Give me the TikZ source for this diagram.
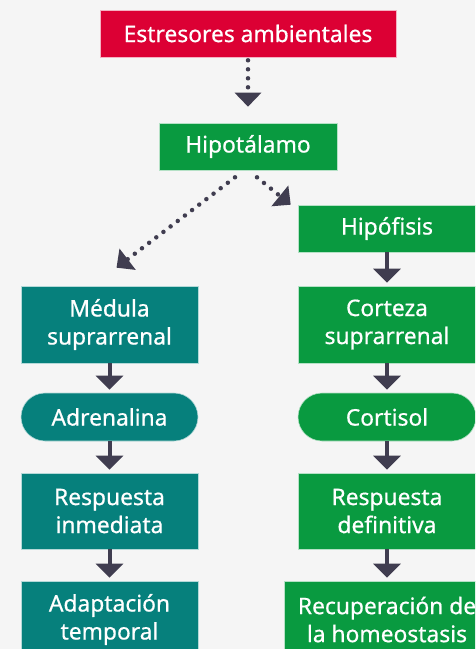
\documentclass[tikz,border=0pt]{standalone}
\usepackage{fontspec}
\setmainfont{Noto Sans}
\newfontfamily\boxfont{Noto Sans}[FakeBold=0.6]
\usetikzlibrary{arrows.meta}

\definecolor{bgcol}{RGB}{245,245,245}
\definecolor{redcol}{RGB}{220,0,52}
\definecolor{greencol}{RGB}{9,154,64}
\definecolor{tealcol}{RGB}{6,128,124}
\definecolor{arrowcol}{RGB}{64,61,80}

\tikzset{
  box/.style={draw=white!70!#1, line width=0.6pt, fill=#1, text=white,
    align=center, inner sep=0pt, font=\boxfont\fontsize{22.8}{28}\selectfont},
  pill/.style={box=#1, rounded corners=24pt},
  flow/.style={draw=arrowcol, line width=4pt,
    -{Triangle[width=27pt,length=14pt]}},
  dots/.style={draw=arrowcol, line width=4.5pt, line cap=round,
    dash pattern=on 0pt off 9pt,
    -{Triangle[width=26pt,length=14pt,line cap=butt]}},
}

\begin{document}
\begin{tikzpicture}[x=1pt, y=-1pt]

% page and background
\useasboundingbox (0,0) rectangle (475,649);
\clip (0,0) rectangle (475,649);
\fill[bgcol] (0,0) rectangle (475,649);

% top
\node[box=redcol, minimum width=296pt, minimum height=47pt] (estres) at (248,33.5) {Estresores ambientales};
\node[box=greencol, minimum width=178pt, minimum height=47pt] (hipot) at (248,146.5) {Hipotálamo};
\node[box=greencol, minimum width=178pt, minimum height=47pt] (hipof) at (387,228.5) {Hipófisis};

% left column
\node[box=tealcol, minimum width=177pt, minimum height=77pt] (medula) at (109.5,324.5) {Médula\\suprarrenal};
\node[pill=tealcol, minimum width=177pt, minimum height=48pt] (adren) at (109.5,417) {Adrenalina};
\node[box=tealcol, minimum width=177pt, minimum height=76pt] (respinm) at (109.5,511) {Respuesta\\inmediata};
\node[box=tealcol, minimum width=177pt, minimum height=77pt] (adapt) at (109.5,619.5) {Adaptación\\temporal};

% right column
\node[box=greencol, minimum width=178pt, minimum height=77pt] (corteza) at (387,324.5) {Corteza\\suprarrenal};
\node[pill=greencol, minimum width=178pt, minimum height=48pt] (cortis) at (387,417) {Cortisol};
\node[box=greencol, minimum width=178pt, minimum height=76pt] (respdef) at (387,511) {Respuesta\\definitiva};
\node[box=greencol, minimum width=206pt, minimum height=77pt] (recup) at (387,619.5) {Recuperación de\\la homeostasis};

% dotted connectors (yshift is not flipped by y=-1pt)
\draw[dots] ([yshift=-3pt]estres.south) -- ([yshift=16pt]hipot.north);
\draw[dots] ([xshift=-13pt,yshift=-7pt]hipot.south) -- ([xshift=7pt,yshift=18pt]medula.north);
\draw[dots] ([xshift=9pt,yshift=-7pt]hipot.south) -- ([xshift=-7pt]hipof.north west);

% solid connectors
\foreach \a/\b in {hipof/corteza, corteza/cortis, cortis/respdef, respdef/recup,
                   medula/adren, adren/respinm, respinm/adapt} {
  \draw[flow] (\a.south) -- ([yshift=3pt]\b.north);
}

\end{tikzpicture}
\end{document}
